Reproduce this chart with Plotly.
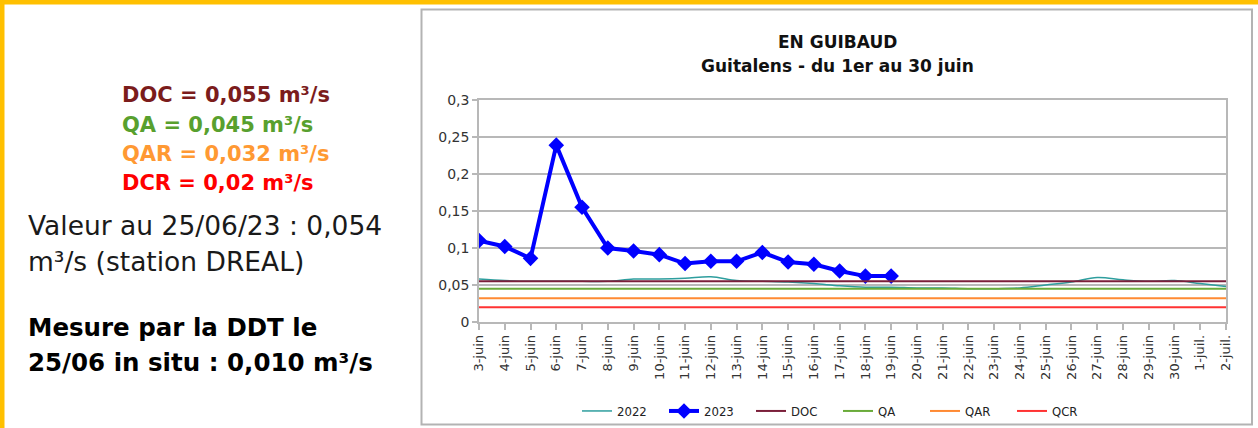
import plotly.graph_objects as go

# ---------------- data ----------------
categories = ["3-juin", "4-juin", "5-juin", "6-juin", "7-juin", "8-juin", "9-juin", "10-juin",
              "11-juin", "12-juin", "13-juin", "14-juin", "15-juin", "16-juin", "17-juin",
              "18-juin", "19-juin", "20-juin", "21-juin", "22-juin", "23-juin", "24-juin",
              "25-juin", "26-juin", "27-juin", "28-juin", "29-juin", "30-juin", "1-juil.", "2-juil."]

values_2022 = [0.058, 0.056, 0.055, 0.055, 0.055, 0.055, 0.058, 0.058, 0.059, 0.061,
               0.056, 0.055, 0.054, 0.052, 0.049, 0.047, 0.047, 0.046, 0.046, 0.045,
               0.045, 0.046, 0.050, 0.054, 0.060, 0.057, 0.055, 0.056, 0.052, 0.048]

values_2023 = [0.110, 0.102, 0.086, 0.239, 0.155, 0.100, 0.096, 0.091, 0.079, 0.082,
               0.082, 0.094, 0.081, 0.078, 0.069, 0.062, 0.062]

DOC = 0.055
QA = 0.045
QAR = 0.032
QCR = 0.020

y_tickvals = [0, 0.05, 0.1, 0.15, 0.2, 0.25, 0.3]
y_ticktext = ["0", "0,05", "0,1", "0,15", "0,2", "0,25", "0,3"]

# ---------------- layout helpers (pixel -> paper) ----------------
W, H = 1258, 428
ML, MR, MT, MB = 479, 32, 100, 106
PW, PH = W - ML - MR, H - MT - MB


def px(x):
    return (x - ML) / PW


def py(y):
    return (H - MB - y) / PH


fig = go.Figure()

fig.add_trace(go.Scatter(x=categories, y=values_2022, name="2022", mode="lines",
                         line=dict(color="#2e9e9e", width=1.5, shape="spline")))
fig.add_trace(go.Scatter(x=categories[:len(values_2023)], y=values_2023, name="2023",
                         mode="lines+markers",
                         line=dict(color="#0000ff", width=4),
                         marker=dict(symbol="diamond", size=12, color="#0000ff")))
for name, val, col in [("DOC", DOC, "#7b1f3a"), ("QA", QA, "#6aab3a"),
                       ("QAR", QAR, "#ff8a33"), ("QCR", QCR, "#ff3333")]:
    fig.add_trace(go.Scatter(x=categories, y=[val] * len(categories), name=name,
                             mode="lines", line=dict(color=col, width=2)))

grid = "#b8b8b8"
fig.update_xaxes(type="category", range=[0, len(categories) - 1], showgrid=False,
                 showline=True, linecolor=grid, linewidth=1.5, mirror=True,
                 ticks="outside", ticklen=6, tickcolor=grid, tickwidth=1.5,
                 tickangle=-90, tickfont=dict(family="DejaVu Sans", size=13, color="#333333"))
fig.update_yaxes(range=[0, 0.3], tickvals=y_tickvals, ticktext=y_ticktext,
                 showgrid=True, gridcolor=grid, gridwidth=1.5, zeroline=False,
                 showline=True, linecolor=grid, linewidth=1.5, mirror=True,
                 ticks="outside", ticklen=5, tickcolor=grid, tickwidth=1.5,
                 tickfont=dict(family="DejaVu Sans", size=14, color="#333333"))

shapes = [
    # yellow frame (top and left)
    dict(type="rect", xref="paper", yref="paper", x0=px(0), x1=px(W), y0=py(0), y1=py(4.5),
         fillcolor="#ffc000", line=dict(width=0), layer="above"),
    dict(type="rect", xref="paper", yref="paper", x0=px(0), x1=px(4.5), y0=py(0), y1=py(H),
         fillcolor="#ffc000", line=dict(width=0), layer="above"),
    # chart box
    dict(type="rect", xref="paper", yref="paper", x0=px(421.5), x1=px(1252), y0=py(9.5), y1=py(424.5),
         line=dict(color="#b3b3b3", width=2), layer="below"),
]

annotations = [
    dict(text="<b>EN GUIBAUD</b>", x=px(837), y=py(42), xref="paper", yref="paper",
         showarrow=False, xanchor="center", yanchor="middle",
         font=dict(family="DejaVu Sans", size=17, color="#111111")),
    dict(text="<b>Guitalens - du 1er au 30 juin</b>", x=px(837), y=py(66), xref="paper", yref="paper",
         showarrow=False, xanchor="center", yanchor="middle",
         font=dict(family="DejaVu Sans", size=17, color="#111111")),
]

left_lines = [
    ("<b>DOC = 0,055 m³/s</b>", 120, 95, 21, "#7b1c1c"),
    ("<b>QA = 0,045 m³/s</b>", 120, 125, 21, "#58a02e"),
    ("<b>QAR = 0,032 m³/s</b>", 120, 154, 21, "#ff9933"),
    ("<b>DCR = 0,02 m³/s</b>", 120, 183, 21, "#ff0000"),
    ("Valeur au 25/06/23 : 0,054", 26, 225, 26.5, "#1a1a1a"),
    ("m³/s (station DREAL)", 26, 261, 26.5, "#1a1a1a"),
    ("<b>Mesure par la DDT le</b>", 26, 327, 24.5, "#000000"),
    ("<b>25/06 in situ : 0,010 m³/s</b>", 26, 362, 24.5, "#000000"),
]
for txt, x, y, s, c in left_lines:
    annotations.append(dict(text=txt, x=px(x), y=py(y), xref="paper", yref="paper",
                            showarrow=False, xanchor="left", yanchor="middle",
                            font=dict(family="DejaVu Sans", size=s, color=c)))

fig.update_layout(
    width=W, height=H,
    margin=dict(l=ML, r=MR, t=MT, b=MB, autoexpand=False),
    paper_bgcolor="white", plot_bgcolor="white",
    shapes=shapes, annotations=annotations,
    showlegend=True,
    legend=dict(orientation="h", x=px(838), y=py(411), xanchor="center", yanchor="middle",
                font=dict(family="Liberation Sans Narrow, DejaVu Sans Condensed, Liberation Sans",
                          size=13, color="#222222"),
                bgcolor="rgba(0,0,0,0)", itemwidth=30,
                entrywidth=42, entrywidthmode="pixels"),
)

fig.write_html("out.html", config={"displayModeBar": False},
               post_script="document.body.style.margin='0';document.body.style.overflow='hidden';")
